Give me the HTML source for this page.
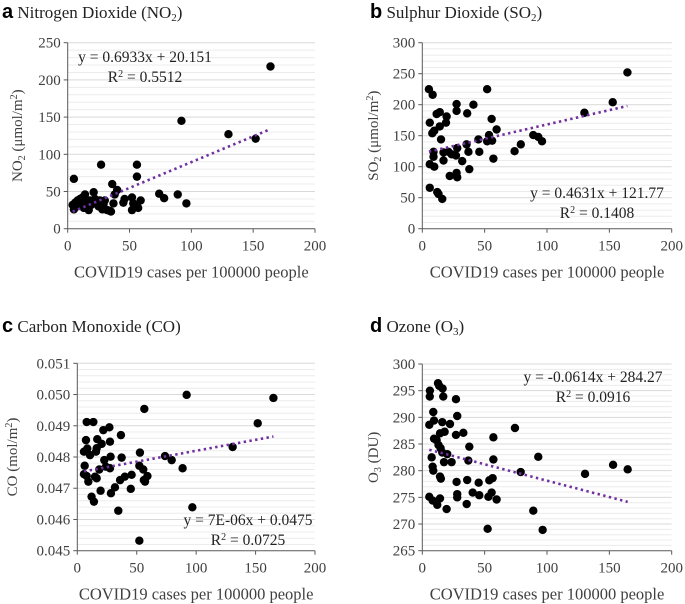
<!DOCTYPE html>
<html><head><meta charset="utf-8">
<style>
html,body{margin:0;padding:0;background:#fff;}
svg{display:block;font-family:"Liberation Serif",serif;}
</style></head>
<body>
<svg id="fig" width="685" height="604" viewBox="0 0 685 604"></svg>
<script>
const NS="http://www.w3.org/2000/svg";
const svg=document.getElementById('fig');
// ---- data ----
const xTicks=[0,50,100,150,200];
const no2X=[5,4,5,6,7,8,9,10,11,12,13,14,15,16,17,18,19,21,22,23,25,26,27,28,29,30,32,34,35,36,37,38,40,45,46,52,52,53,55,56,56,57,59,74,78,89,92,96,130,152,164];
const no2Y=[67,32,26,35,30,38,33,40,36,42,28,46,35,30,25,38,32,49,40,36,30,38,86,26,33,38,25,24,23,60,34,46,52,35,40,25,42,34,30,70,86,28,38,47,41,46,145,34,127,121,218];
const so2X=[5.3,8.3,6,6,6,9.6,8,9.6,11.5,14,14,15,9,9,12,13,16,17,17,19.5,19,21,22,23.5,27,27.5,27.5,28,27.5,28,32,35.5,36,37,37.7,41,45,45.7,52,52,53.5,55.6,56,57,59.6,74,79,89,93,96,130,152.7,164.5];
const so2Y=[225,216,171,104,66,100,154,158,185,188,165,144,124,116,59,56,48,123,110,181,171,124,85,120,118,201,190,130,90,83,109,136,186,124,96,200,144,124,225,141,151,177,142,113,160,125,136,151,148,141,187,204,252];
const coX=[7.9,13.5,5.6,7.3,8.4,6.2,5.6,7.9,9.3,10.7,12,14,14.9,16.3,15.7,16.8,16.3,18.5,19.6,20.5,21.9,22.7,24,27,27.5,28,28.3,27.5,31.7,34.5,36,36.7,37.3,40,45,45.7,52.7,52.2,52.2,55.5,56,57,59,56.4,73.8,79.4,88.6,92,96.8,130.7,151.8,165];
const coY=[.04912,.04912,.04817,.04854,.04827,.04772,.04745,.04739,.04721,.04806,.04673,.04657,.04737,.04732,.04817,.04857,.04828,.0476,.04692,.04842,.04886,.0479,.04769,.04895,.04849,.04801,.04684,.04764,.04703,.04628,.04726,.0487,.04798,.04737,.04698,.04743,.04814,.04772,.04532,.0476,.04726,.04721,.04739,.04954,.04803,.0479,.04764,.04999,.04639,.04832,.04908,.04989];
const o3X=[6.1,6,5.6,9.4,8.8,9.4,11.5,7.5,8.3,8.8,5.6,8.3,12,14.2,12.6,13.6,16.3,16.8,16,14.2,17.9,13,14.7,16,14.2,14.9,17.4,20,22.2,23.5,19.5,27,28,27,27.5,28,28,32.9,35.6,36,37.7,36.9,40.4,45.7,45.2,52.4,53,53.7,55.6,56.4,57,57,59.6,74.3,78.9,89,93,96.5,130.5,153,164.7];
const o3Y=[295,293.9,288.6,289.4,291,286,285.7,282.5,280.75,280,275.1,274.4,273.6,274.8,296.4,295.9,295.4,293.9,289.1,287,287.3,284.8,284.2,283.4,278.9,278.5,281.6,283.1,288.75,281.6,272.8,293.4,290.25,286.7,277.9,275.6,275,287.1,273.75,278.25,284.5,281.9,275.9,275.4,277.75,269.1,275.1,278.2,275.9,278.6,286.25,282.1,274.6,288,279.75,272.5,282.6,268.9,279.4,281.1,280.25];
const no2Ticks=[0,50,100,150,200,250];
const so2Ticks=[0,50,100,150,200,250,300];
const coTicks=[0.045,0.046,0.047,0.048,0.049,0.050,0.051];
const o3Ticks=[265,270,275,280,285,290,295,300];
const no2Fit=[0.6933,20.151], so2Fit=[0.4631,121.77], coFit=[0.000007,0.0475], o3Fit=[-0.0614,284.27];

function el(tag,attrs,parent,text){const e=document.createElementNS(NS,tag);for(const k in attrs)e.setAttribute(k,attrs[k]);if(text!==undefined)e.textContent=text;(parent||svg).appendChild(e);return e;}

function panel(cfg){
  const g=el('g',{});
  
  
  const {x0,x1,y0,y1,ticks,fmt}=cfg;
  const ymin=ticks[0],ymax=ticks[ticks.length-1];
  const sx=v=>x0+(v-0)/(200-0)*(x1-x0);
  const sy=v=>y0-(v-ymin)/(ymax-ymin)*(y0-y1);
  const step=(ticks[1]-ticks[0])/5;
  for(let i=1;i<=(ticks.length-1)*5;i++){
    const v=ymin+i*step;const yy=sy(v);
    const gl=el('line',{x1:x0,x2:x1,y1:yy,y2:yy,stroke:i%5==0?'#d9d9d9':'#ececec','stroke-width':1},g);
    
    
  }
  const ax=el('line',{x1:x0,x2:x1,y1:y0,y2:y0,stroke:'#595959','stroke-width':1},g);
  
  
  const ay=el('line',{x1:x0,x2:x0,y1:y0,y2:y1,stroke:'#595959','stroke-width':1},g);
  
  
  xTicks.forEach(t=>{
    el('line',{x1:sx(t),x2:sx(t),y1:y0,y2:y0+4,stroke:'#595959'},g);
    const tl=el('text',{x:sx(t),y:y0+22,'text-anchor':'middle','font-size':15,fill:'#404040'},g,String(t));
    
    
  });
  ticks.forEach(t=>{
    el('line',{x1:x0-4,x2:x0,y1:sy(t),y2:sy(t),stroke:'#595959'},g);
    const tl=el('text',{x:x0-7,y:sy(t)+5,'text-anchor':'end','font-size':15,fill:'#404040'},g,fmt(t));
    
    
  });
  const xt=el('text',{x:(x0+x1)/2,y:y0+49,'text-anchor':'middle','font-size':16.5,fill:'#404040'},g,'COVID19 cases per 100000 people');
  
  
  const yt=el('text',{x:0,y:0,'text-anchor':'middle','font-size':15,fill:'#404040',transform:`translate(${cfg.ytx},${(y0+y1)/2}) rotate(-90)`},g);
  yt.innerHTML=cfg.ytitle;
  
  
  const tt=el('text',{x:cfg.tx,y:cfg.ty,'font-size':17,fill:'#222'},g);
  tt.innerHTML=`<tspan font-family="Liberation Sans, sans-serif" font-weight="bold" font-size="20" fill="#000">${cfg.letter}</tspan> ${cfg.title}`;
  
  
  cfg.xs.forEach((xv,i)=>{
    const c=el('circle',{cx:sx(xv),cy:sy(cfg.ys[i]),r:4.2,fill:'#000'},g);
    
    
  });
  const xa=Math.min(...cfg.xs),xb=Math.max(...cfg.xs);
  const f=cfg.fit;
  const tr=el('line',{x1:sx(xa),y1:sy(f[0]*xa+f[1]),x2:sx(xb),y2:sy(f[0]*xb+f[1]),stroke:'#7030a0','stroke-width':2.6,'stroke-dasharray':'2.4 3.4'},g);
  
  
  const e1=el('text',{x:cfg.ex,y:cfg.ey,'text-anchor':'middle','font-size':15.5,fill:'#222'},g,cfg.eq);
  
  
  const e2=el('text',{x:cfg.ex,y:cfg.ey+20,'text-anchor':'middle','font-size':15.5,fill:'#222'},g);
  e2.innerHTML=cfg.r2;
  
  
}
panel({name:'no2',letter:'a',title:'Nitrogen Dioxide (NO<tspan font-size="11" dy="3">2</tspan><tspan dy="-3">)</tspan>',tx:2,ty:18,
  x0:67.7,x1:315,y0:228.7,y1:42.7,ticks:no2Ticks,fmt:String,xs:no2X,ys:no2Y,fit:no2Fit,
  ytx:22,ytitle:'NO<tspan font-size="10" dy="3">2</tspan><tspan dy="-3"> (μmol/m</tspan><tspan font-size="10" dy="-5">2</tspan><tspan dy="5">)</tspan>',
  ex:145,ey:62,eq:'y = 0.6933x + 20.151',r2:'R<tspan font-size="10" dy="-5">2</tspan><tspan dy="5"> = 0.5512</tspan>'});
panel({name:'so2',letter:'b',title:'Sulphur Dioxide (SO<tspan font-size="11" dy="3">2</tspan><tspan dy="-3">)</tspan>',tx:370,ty:18,
  x0:422.3,x1:671.7,y0:228.7,y1:42.7,ticks:so2Ticks,fmt:String,xs:so2X,ys:so2Y,fit:so2Fit,
  ytx:378,ytitle:'SO<tspan font-size="10" dy="3">2</tspan><tspan dy="-3"> (μmol/m</tspan><tspan font-size="10" dy="-5">2</tspan><tspan dy="5">)</tspan>',
  ex:597,ey:198,eq:'y = 0.4631x + 121.77',r2:'R<tspan font-size="10" dy="-5">2</tspan><tspan dy="5"> = 0.1408</tspan>'});
panel({name:'co',letter:'c',title:'Carbon Monoxide (CO)',tx:2,ty:332,
  x0:77.3,x1:315,y0:550.7,y1:363.3,ticks:coTicks,fmt:v=>v.toFixed(3),xs:coX,ys:coY,fit:coFit,
  ytx:17,ytitle:'CO (mol/m<tspan font-size="10" dy="-5">2</tspan><tspan dy="5">)</tspan>',
  ex:248,ey:525,eq:'y = 7E-06x + 0.0475',r2:'R<tspan font-size="10" dy="-5">2</tspan><tspan dy="5"> = 0.0725</tspan>'});
panel({name:'o3',letter:'d',title:'Ozone (O<tspan font-size="11" dy="3">3</tspan><tspan dy="-3">)</tspan>',tx:370,ty:332,
  x0:422.3,x1:671.7,y0:550.7,y1:364,ticks:o3Ticks,fmt:String,xs:o3X,ys:o3Y,fit:o3Fit,
  ytx:378,ytitle:'O<tspan font-size="10" dy="3">3</tspan><tspan dy="-3"> (DU)</tspan>',
  ex:593,ey:382,eq:'y = -0.0614x + 284.27',r2:'R<tspan font-size="10" dy="-5">2</tspan><tspan dy="5"> = 0.0916</tspan>'});
</script>
</body></html>
